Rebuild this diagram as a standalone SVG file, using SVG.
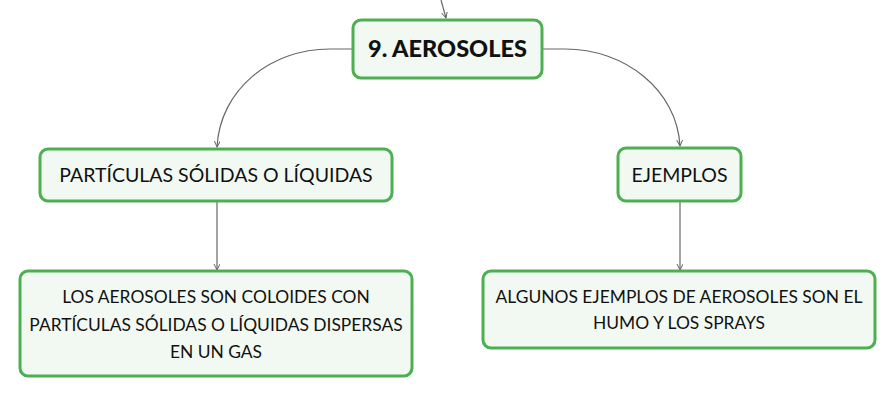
<svg xmlns="http://www.w3.org/2000/svg" width="896" height="398" viewBox="0 0 896 398">
<defs>
<style>
.box{fill:#f1f9f2;stroke:#4caf50;stroke-width:3}
.t{font-family:Lato,"Open Sans",sans-serif;fill:#111;text-anchor:middle}
.root{font-size:23.5px;font-weight:900}
.lbl{font-size:19.5px}
.txt{font-size:17.4px}
.c{fill:none;stroke:#666;stroke-width:1.2}
</style>
<marker id="ah" markerWidth="8" markerHeight="8" refX="6" refY="3" orient="auto" markerUnits="userSpaceOnUse">
<path d="M0,0 L6,3 L0,6" fill="none" stroke="#666" stroke-width="1"/>
</marker>
</defs>
<g id="connectors">
<path class="c" d="M441,0 L446,18" marker-end="url(#ah)"/>
<path class="c" d="M352,49 L330,49 C270,49 220,90 217,147" marker-end="url(#ah)"/>
<path class="c" d="M543,49 L565,49 C625,49 677,90 680,146" marker-end="url(#ah)"/>
<path class="c" d="M217,202 L217,270" marker-end="url(#ah)"/>
<path class="c" d="M680,202 L680,270" marker-end="url(#ah)"/>
</g>
<g id="root">
<rect class="box" x="353" y="20" width="189" height="58" rx="8"/>
<text class="t root" x="447.5" y="57">9. AEROSOLES</text>
</g>
<g id="particulas">
<rect class="box" x="40" y="149" width="352" height="52" rx="8"/>
<text class="t lbl" x="216" y="182">PARTÍCULAS SÓLIDAS O LÍQUIDAS</text>
</g>
<g id="ejemplos">
<rect class="box" x="618" y="148" width="123" height="53" rx="8"/>
<text class="t lbl" x="679.5" y="182">EJEMPLOS</text>
</g>
<g id="def">
<rect class="box" x="20" y="271" width="392" height="105" rx="8"/>
<text class="t txt" x="216" y="303">LOS AEROSOLES SON COLOIDES CON</text>
<text class="t txt" x="216" y="331">PARTÍCULAS SÓLIDAS O LÍQUIDAS DISPERSAS</text>
<text class="t txt" x="216" y="358">EN UN GAS</text>
</g>
<g id="ej">
<rect class="box" x="483" y="271" width="392" height="77" rx="8"/>
<text class="t txt" x="679" y="303">ALGUNOS EJEMPLOS DE AEROSOLES SON EL</text>
<text class="t txt" x="679" y="329">HUMO Y LOS SPRAYS</text>
</g>
</svg>
